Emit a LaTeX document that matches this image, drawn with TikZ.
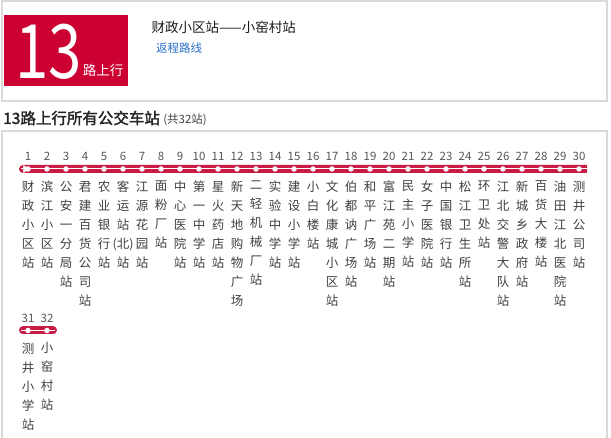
\documentclass[tikz,border=0pt]{standalone}
\usepackage{fontspec}
\setmainfont{Noto Sans CJK SC}[AutoFakeBold=2]
\usepackage{xcolor}
\usepackage{tikz}
\usetikzlibrary{calc}
\usetikzlibrary{positioning}
\definecolor{busred}{RGB}{204,0,51}
\definecolor{barred}{RGB}{200,28,68}
\definecolor{boxgray}{RGB}{218,218,218}
\definecolor{linkblue}{RGB}{40,110,200}
\definecolor{numgray}{RGB}{85,85,85}
\definecolor{namegray}{RGB}{64,64,64}
\tikzset{
	panel/.style={draw=boxgray, line width=2.4pt},
	stopdot/.style={circle, fill=white, inner sep=0pt, minimum size=5.5pt},
	stopnum/.style={font=\fontsize{11.5}{12}\selectfont, text=numgray, inner sep=0pt},
	stopname/.style={font=\fontsize{12.5}{19}\selectfont, text=namegray, align=center, inner sep=0pt},
}

\begin{document}
\begin{tikzpicture}[x=1pt, y=-1pt]
       \useasboundingbox (0,0) rectangle (611,438);
       
       \draw[panel] (2,1) rectangle (607,101);
       
       \node[fill=busred, inner sep=0pt, minimum width=124pt, minimum height=71pt, anchor=north west] (logo) at (4,15) {};
       \node[text=white, inner sep=0pt, font=\fontsize{75}{75}\selectfont] (num) at (48.5,51.5) {\scalebox{0.8}[1]{13}};
       \node[text=white, inner sep=0pt, font=\fontsize{13.5}{14}\selectfont] (dir) at (103,70.5) {路上行};
       
       \node[anchor=west, inner sep=0pt, text=black!90, font=\fontsize{13.5}{14}\selectfont] (route) at (151.5,27) {财政小区站——小窑村站};
       \node[anchor=west, inner sep=0pt, text=linkblue, font=\fontsize{11.5}{12}\selectfont] (back) at (156,48) {返程路线};
       
       \node[anchor=west, inner sep=0pt, text=black!85, font=\fontsize{15.5}{16}\selectfont\bfseries] (head) at (3,118) {13路上行所有公交车站};
       \node[base right=3pt of head, inner sep=0pt, text=black!75, font=\fontsize{11.5}{12}\selectfont] (total) {(共32站)};
       
       \draw[panel] (2,440) -- (2,131) -- (607,131) -- (607,440);
       
       % line bars
       \fill[barred] (23,169) circle (4) (23,165) rectangle (587,173);
       \draw[barred, line width=8pt, line cap=round] (23,330.5) -- (53,330.5);
       \coordinate (a) at (21,169);
       \coordinate (b) at (587,169);
       \coordinate (c) at (21,330.5);
       \coordinate (d) at (55,330.5);
       \draw[white, line width=1pt] (a) -- (b);
       \draw[white, line width=1pt] (c) -- (d);
       
       \foreach \n/\name [evaluate=\n as \x using 28+(\n-1)*19] in {
              1/{财\\政\\小\\区\\站}, 2/{滨\\江\\小\\区\\站}, 3/{公\\安\\一\\分\\局\\站},
              4/{君\\建\\百\\货\\公\\司\\站}, 5/{农\\业\\银\\行\\站}, 6/{客\\运\\站\\(北)\\站},
              7/{江\\源\\花\\园\\站}, 8/{面\\粉\\厂\\站}, 9/{中\\心\\医\\院\\站},
              10/{第\\一\\中\\学\\站}, 11/{星\\火\\药\\店\\站}, 12/{新\\天\\地\\购\\物\\广\\场},
              13/{二\\轻\\机\\械\\厂\\站}, 14/{实\\验\\中\\学\\站}, 15/{建\\设\\小\\学\\站},
              16/{小\\白\\楼\\站}, 17/{文\\化\\康\\城\\小\\区\\站}, 18/{伯\\都\\讷\\广\\场\\站},
              19/{和\\平\\广\\场\\站}, 20/{富\\江\\苑\\二\\期\\站}, 21/{民\\主\\小\\学\\站},
              22/{女\\子\\医\\院\\站}, 23/{中\\国\\银\\行\\站}, 24/{松\\江\\卫\\生\\所\\站},
              25/{环\\卫\\处\\站}, 26/{江\\北\\交\\警\\大\\队\\站}, 27/{新\\城\\乡\\政\\府\\站},
              28/{百\\货\\大\\楼\\站}, 29/{油\\田\\江\\北\\医\\院\\站}, 30/{测\\井\\公\\司\\站}}
       {
              \node[stopdot] (s\n) at (\x,169) {};
              \node[stopnum, above=5pt of s\n] (n\n) {\n};
              \node[stopname, below=9pt of s\n] (t\n) {\name};
       }
       
       \foreach \n/\name [evaluate=\n as \x using 28+(\n-31)*19] in {
              31/{测\\井\\小\\学\\站}, 32/{小\\窑\\村\\站}}
       {
              \node[stopdot] (s\n) at (\x,330.5) {};
              \node[stopnum, above=5pt of s\n] (n\n) {\n};
              \node[stopname, below=9pt of s\n] (t\n) {\name};
       }
\end{tikzpicture}
\end{document}
